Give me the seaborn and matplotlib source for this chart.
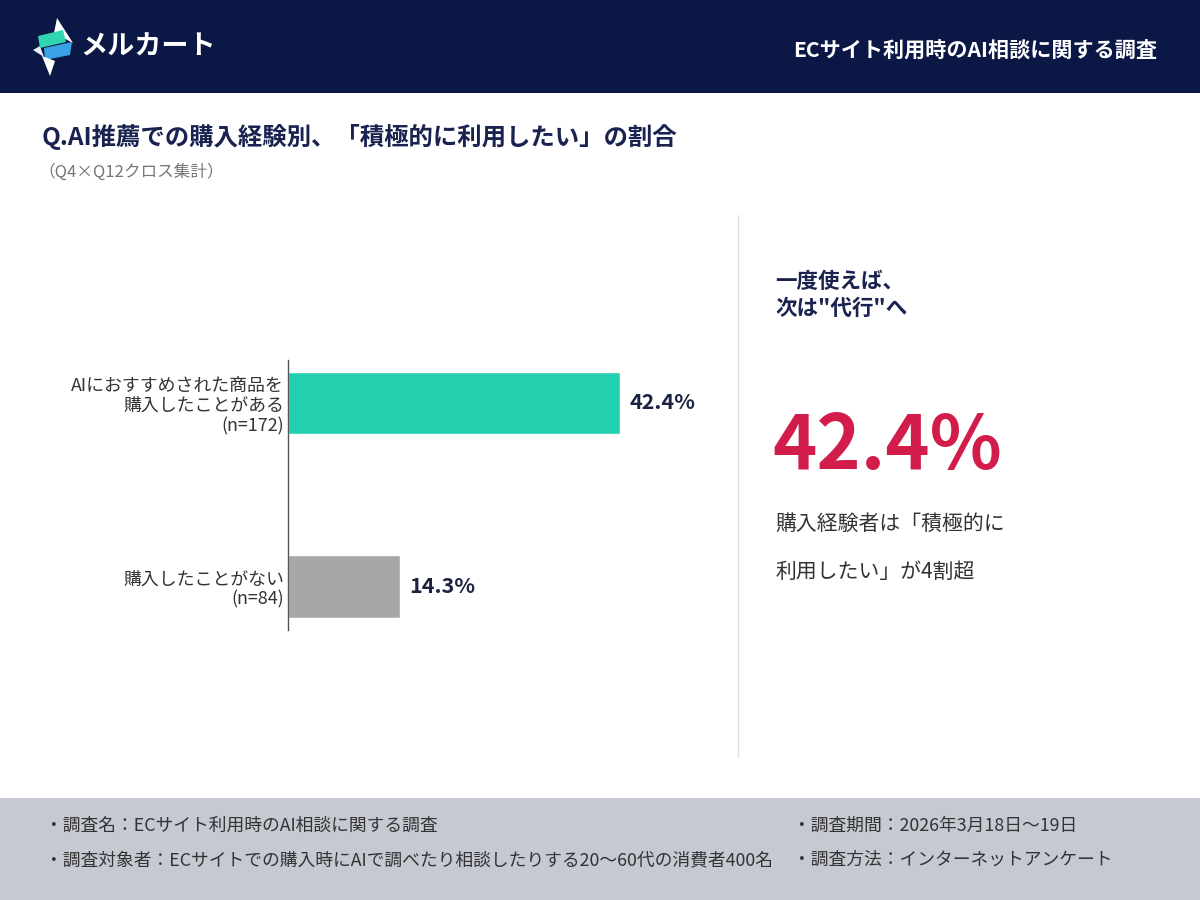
import matplotlib
matplotlib.use("Agg")
import matplotlib.pyplot as plt
import seaborn as sns
import pandas as pd
from matplotlib.patches import Rectangle, Polygon

# ---- data ----
categories = ["AIにおすすめされた商品を\n購入したことがある\n(n=172)", "購入したことがない\n(n=84)"]
values = [42.4, 14.3]
bar_colors = ["#22d0b0", "#a8a6a9"]

header_title = "ECサイト利用時のAI相談に関する調査"
brand = "メルカート"
chart_title = "Q.AI推薦での購入経験別、「積極的に利用したい」の割合"
chart_sub = "（Q4×Q12クロス集計）"
side_head = "一度使えば、\n次は\"代行\"へ"
side_big = "42.4%"
side_desc = ["購入経験者は「積極的に", "利用したい」が4割超"]
footer_left = ["・調査名：ECサイト利用時のAI相談に関する調査",
               "・調査対象者：ECサイトでの購入時にAIで調べたり相談したりする20〜60代の消費者400名"]
footer_right = ["・調査期間：2026年3月18日〜19日", "・調査方法：インターネットアンケート"]

sns.set_theme(style="white")
plt.rcParams["font.family"] = ["Noto Sans CJK JP", "DejaVu Sans"]

NAVY = "#0b1744"
TXT_NAVY = "#1a2350"

fig = plt.figure(figsize=(12, 9), dpi=100)
fig.patch.set_facecolor("white")

# background / decoration axes in pixel coords
bg = fig.add_axes([0, 0, 1, 1], zorder=0)
bg.set_xlim(0, 1200)
bg.set_ylim(900, 0)
bg.axis("off")
bg.add_patch(Rectangle((0, 0), 1200, 93, color=NAVY, lw=0))
bg.add_patch(Rectangle((0, 798), 1200, 102, color="#c6c9d2", lw=0))
bg.plot([738, 738], [215, 757], color="#dddddd", lw=1)

# logo
bg.add_patch(Polygon([(57, 18), (73, 43), (54, 33)], closed=True, color="white", lw=0))
bg.add_patch(Polygon([(33, 50), (40, 46), (44, 57)], closed=True, color="#e8eef5", lw=0))
bg.add_patch(Polygon([(38, 36), (63, 30), (66, 42), (40, 48)], closed=True, color="#2fd6b0", lw=0))
bg.add_patch(Polygon([(44, 48), (72, 42), (70, 55), (45, 60)], closed=True, color="#3aa3e8", lw=0))
bg.add_patch(Polygon([(42, 56), (55, 61), (50, 76)], closed=True, color="white", lw=0))

bg.text(80, 47, brand, color="white", fontsize=19.5, fontweight="bold", va="center", ha="left")
bg.text(1157, 50, header_title, color="white", fontsize=15.2, fontweight="bold", va="center", ha="right")

bg.text(42, 137, chart_title, color=TXT_NAVY, fontsize=17.6, fontweight="bold", va="center", ha="left")
bg.text(38, 172, chart_sub, color="#777777", fontsize=12, va="center", ha="left")

bg.text(775, 295, side_head, color=TXT_NAVY, fontsize=15.5, fontweight="bold", va="center", ha="left",
        linespacing=1.3)
bg.text(772, 447, side_big, color="#d21d4b", fontsize=54, fontweight="bold", va="center", ha="left")
bg.text(775, 524, side_desc[0], color="#333333", fontsize=15, va="center", ha="left")
bg.text(775, 572, side_desc[1], color="#333333", fontsize=15, va="center", ha="left")

for i, t in enumerate(footer_left):
    bg.text(45, 826 + i * 34, t, color="#333333", fontsize=12.8, va="center", ha="left")
for i, t in enumerate(footer_right):
    bg.text(793, 826 + i * 34, t, color="#333333", fontsize=12.8, va="center", ha="left")

# chart axes
ax = fig.add_axes([288 / 1200, 1 - 630 / 900, 430 / 1200, 270 / 900], zorder=1)
ax.patch.set_alpha(0)
df = pd.DataFrame({"cat": categories, "val": values})
sns.barplot(data=df, x="val", y="cat", hue="cat", palette=bar_colors, width=0.34,
            saturation=1, legend=False, ax=ax, orient="h")
ax.set_xlim(0, 430 / 7.83)
ax.set_ylim(1.237, -0.234)
ax.set_xlabel("")
ax.set_ylabel("")
ax.set_xticks([])
for s in ["top", "right", "bottom"]:
    ax.spines[s].set_visible(False)
ax.spines["left"].set_color("#555555")
ax.spines["left"].set_linewidth(1)
ax.tick_params(axis="y", length=0, pad=3, labelsize=12.9, labelcolor="#333333")
for lab in ax.get_yticklabels():
    lab.set_linespacing(1.15)
for cont in ax.containers:
    ax.bar_label(cont, labels=[f"{v}%" for v in cont.datavalues], padding=7,
                 fontsize=15.5, fontweight="bold", color="#1c2340")

fig.savefig("out.png", dpi=100)
